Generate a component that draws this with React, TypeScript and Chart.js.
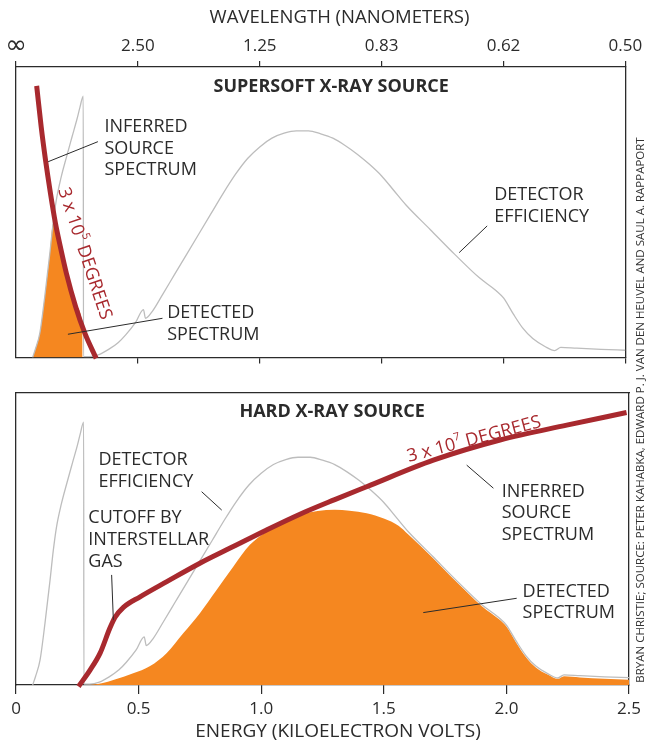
import React, { useEffect, useRef } from 'react';
import { Chart, registerables } from 'chart.js';

Chart.register(...registerables);

type Pt = [number, number];

// ---------- axis ticks ----------
const energyTicks = [0, 0.5, 1.0, 1.5, 2.0, 2.5];
const energyTickLabels = ['0', '0.5', '1.0', '1.5', '2.0', '2.5'];
const wavelengthTickLabels = ['∞', '2.50', '1.25', '0.83', '0.62', '0.50'];
const wavelengthAxisTitle = 'WAVELENGTH (NANOMETERS)';
const energyAxisTitle = 'ENERGY (KILOELECTRON VOLTS)';

// ---------- series: [energy keV, relative level 0..100] ----------
const detectorEfficiency: Pt[] = [
  [0.068, 0], [0.08, 3], [0.098, 8.5], [0.118, 21], [0.139, 36], [0.152, 46], [0.165, 54],
  [0.185, 62], [0.207, 69], [0.23, 76], [0.25, 82], [0.262, 86], [0.276, 90], [0.2768, 0.3],
  [0.3, 0.3], [0.34, 1], [0.38, 2.8], [0.42, 5.2], [0.45, 7.8], [0.49, 12], [0.523, 16.5],
  [0.531, 13.5], [0.56, 16], [0.6, 21.5], [0.65, 28.5], [0.7, 35.5], [0.75, 42.5], [0.8, 49.5],
  [0.85, 56.5], [0.9, 63], [0.95, 68.5], [1.0, 72.5], [1.05, 75.5], [1.1, 77.2], [1.15, 78],
  [1.2, 78], [1.25, 77], [1.3, 75.5], [1.35, 73], [1.4, 70], [1.45, 66.5], [1.5, 62.5],
  [1.55, 57.5], [1.6, 52.5], [1.7, 44], [1.8, 35.5], [1.9, 27.5], [1.97, 23], [2.0, 20.5],
  [2.04, 15], [2.08, 10], [2.12, 6.5], [2.17, 3.8], [2.21, 2.4], [2.235, 3.5], [2.3, 3.2],
  [2.4, 2.8], [2.5, 2.5],
];

const supersoftSource: Pt[] = [
  [0.0848, 93.5], [0.1033, 79.4], [0.121, 68], [0.1414, 56.5], [0.1618, 46.2], [0.182, 38.1],
  [0.2066, 29], [0.2447, 17.5], [0.2828, 8.3], [0.329, -0.3],
];

const supersoftDetected: Pt[] = [
  [0.068, 0], [0.08, 3], [0.098, 8.5], [0.118, 21], [0.139, 36], [0.152, 46], [0.165, 45],
  [0.182, 38.1], [0.2066, 29], [0.2447, 17.5], [0.273, 10.7], [0.2735, 0],
];

const hardSource: Pt[] = [
  [0.255, -0.5], [0.302, 5.1], [0.343, 10.9], [0.383, 19.5], [0.404, 23.2], [0.438, 26.6],
  [0.506, 30.2], [0.615, 35.4], [0.75, 41.7], [0.886, 47.4], [1.022, 53.1], [1.158, 58.5],
  [1.3, 63.5], [1.43, 67.9], [1.702, 77], [1.974, 83.9], [2.246, 89], [2.49, 93.3],
];

const hardDetected: Pt[] = [
  [0.28, 0], [0.35, 0.6], [0.4, 1.8], [0.478, 4], [0.547, 6.5], [0.615, 11], [0.682, 17.7],
  [0.75, 24.6], [0.818, 32.5], [0.886, 40.5], [0.954, 48], [1.022, 52.5], [1.1, 56],
  [1.16, 58.3], [1.23, 59.6], [1.3, 60], [1.36, 59.7], [1.43, 58.8], [1.5, 57], [1.56, 54.5],
  [1.6, 51.5], [1.7, 43.5], [1.8, 35], [1.9, 27], [1.97, 22.5], [2.0, 20], [2.04, 14.5],
  [2.08, 9.5], [2.12, 6], [2.17, 3.5], [2.21, 2.1], [2.235, 3], [2.3, 2.6], [2.4, 2.1], [2.5, 1.8],
];

// ---------- annotations (anchored in data coordinates) ----------
type Note = { lines: string[]; at: Pt; align?: 'left' | 'center'; color?: string; bold?: boolean; angle?: number };
type Leader = [Pt, Pt];

const supersoftNotes: Note[] = [
  { lines: ['SUPERSOFT X-RAY SOURCE'], at: [1.293, 93.1], align: 'center', bold: true },
  { lines: ['INFERRED', 'SOURCE', 'SPECTRUM'], at: [0.363, 79.3] },
  { lines: ['3 x 10^5 DEGREES'], at: [0.281, 35.8], align: 'center', color: 'red', angle: 71.7 },
  { lines: ['DETECTOR', 'EFFICIENCY'], at: [1.962, 55.9] },
  { lines: ['DETECTED', 'SPECTRUM'], at: [0.62, 15.3] },
];
const supersoftLeaders: Leader[] = [
  [[0.336, 74.3], [0.132, 67.4]],
  [[1.818, 36.1], [1.933, 45.3]],
  [[0.213, 8], [0.601, 13.5]],
];

const hardNotes: Note[] = [
  { lines: ['HARD X-RAY SOURCE'], at: [1.289, 93.6], align: 'center', bold: true },
  { lines: ['DETECTOR', 'EFFICIENCY'], at: [0.336, 77.1] },
  { lines: ['CUTOFF BY', 'INTERSTELLAR', 'GAS'], at: [0.295, 57.1] },
  { lines: ['3 x 10^7 DEGREES'], at: [1.868, 84.1], align: 'center', color: 'red', angle: -14.8 },
  { lines: ['INFERRED', 'SOURCE', 'SPECTRUM'], at: [1.981, 66.2] },
  { lines: ['DETECTED', 'SPECTRUM'], at: [2.066, 32] },
];
const hardLeaders: Leader[] = [
  [[0.757, 66.2], [0.839, 59.9]],
  [[0.39, 37.7], [0.397, 22.3]],
  [[1.838, 75.3], [1.947, 67.4]],
  [[1.661, 24.8], [2.042, 29.7]],
];

const creditText = 'BRYAN CHRISTIE; SOURCE: PETER KAHABKA, EDWARD P. J. VAN DEN HEUVEL AND SAUL A. RAPPAPORT';

// ---------- styles ----------
const FONT = '"Open Sans", "Noto Sans", sans-serif';
const INK = '#2b2b2b';
const RED = '#a8292e';
const ORANGE = '#f58720';
const GREY = '#bdbdbd';
const TEXT_SIZE = 18;
const TICK_SIZE = 17;
const LINE_GAP = 21.6;

type AxisTitle = { text: string; x: number; y: number; size: number };
const topAxisTitle: AxisTitle = { text: wavelengthAxisTitle, x: 339.5, y: 18, size: 18.5 };
const bottomAxisTitle: AxisTitle = { text: energyAxisTitle, x: 338, y: 731.5, size: 19 };

function drawRich(ctx: CanvasRenderingContext2D, text: string, x: number, y: number, bold: boolean, align: string) {
  const parts: { t: string; sup?: boolean }[] = [];
  let buf = '';
  for (let i = 0; i < text.length; i++) {
    if (text[i] === '^') {
      if (buf) parts.push({ t: buf });
      buf = '';
      parts.push({ t: text[i + 1], sup: true });
      i++;
    } else buf += text[i];
  }
  if (buf) parts.push({ t: buf });
  const w = bold ? 'bold ' : '';
  const fontOf = (sup?: boolean) => `${w}${sup ? Math.round(TEXT_SIZE * 0.62) : TEXT_SIZE}px ${FONT}`;
  let total = 0;
  const widths = parts.map((p) => {
    ctx.font = fontOf(p.sup);
    const m = ctx.measureText(p.t).width;
    total += m;
    return m;
  });
  let cx = align === 'center' ? x - total / 2 : x;
  parts.forEach((p, i) => {
    ctx.font = fontOf(p.sup);
    ctx.fillText(p.t, cx, p.sup ? y - TEXT_SIZE * 0.36 : y);
    cx += widths[i];
  });
}

function notesPlugin(notes: Note[], leaders: Leader[], axisTitle: AxisTitle, credit: boolean) {
  return {
    id: 'notes',
    afterDraw(chart: any) {
      const { ctx } = chart;
      const xs = chart.scales.x;
      const ys = chart.scales.y;
      ctx.save();
      ctx.strokeStyle = INK;
      ctx.lineWidth = 1;
      leaders.forEach(([a, b]) => {
        ctx.beginPath();
        ctx.moveTo(xs.getPixelForValue(a[0]), ys.getPixelForValue(a[1]));
        ctx.lineTo(xs.getPixelForValue(b[0]), ys.getPixelForValue(b[1]));
        ctx.stroke();
      });
      ctx.textBaseline = 'middle';
      ctx.textAlign = 'left';
      notes.forEach((n) => {
        const px = xs.getPixelForValue(n.at[0]);
        const py = ys.getPixelForValue(n.at[1]);
        ctx.save();
        ctx.translate(px, py);
        if (n.angle) ctx.rotate((n.angle * Math.PI) / 180);
        ctx.fillStyle = n.color === 'red' ? RED : INK;
        n.lines.forEach((line, i) => {
          drawRich(ctx, line, 0, i * LINE_GAP, !!n.bold, n.align || 'left');
        });
        ctx.restore();
      });
      // axis title
      ctx.save();
      ctx.fillStyle = INK;
      ctx.font = `${axisTitle.size}px ${FONT}`;
      ctx.textAlign = 'center';
      ctx.textBaseline = 'middle';
      ctx.fillText(axisTitle.text, axisTitle.x, axisTitle.y);
      ctx.restore();
      if (credit) {
        ctx.save();
        ctx.translate(641, 410);
        ctx.rotate(-Math.PI / 2);
        ctx.fillStyle = '#333';
        ctx.font = `11.5px ${FONT}`;
        ctx.textAlign = 'center';
        ctx.textBaseline = 'middle';
        ctx.fillText(creditText, 0, 0);
        ctx.restore();
      }
      ctx.restore();
    },
  };
}

const toXY = (pts: Pt[]) => pts.map(([x, y]) => ({ x, y }));

function lineDs(label: string, pts: Pt[], color: string, width: number, extra: any = {}) {
  return {
    label,
    data: toXY(pts),
    borderColor: color,
    borderWidth: width,
    pointRadius: 0,
    fill: false,
    cubicInterpolationMode: 'monotone',
    ...extra,
  };
}

const tickFont = { family: FONT, size: TICK_SIZE };
const setTicks = (s: any) => {
  s.ticks = energyTicks.map((v) => ({ value: v }));
};
const idx = (v: number) => Math.round(v * 2);

// scriptable tick font: the infinity sign is set larger so it matches the reference glyph
const wavelengthTickFont = (c: any) =>
  c && c.index === 0 ? { family: '"DejaVu Sans"', size: 26, lineHeight: 0.8 } : tickFont;

const sideAxis = (position: string) => ({
  position,
  min: 0,
  max: 100,
  ticks: { display: false },
  grid: { display: false },
  border: { display: true, color: INK, width: 1.3 },
  afterFit: (s: any) => {
    s.width = 0;
  },
});

function baseOptions(padding: any, xScales: any) {
  return {
    responsive: false,
    devicePixelRatio: 1,
    animation: false,
    events: [],
    layout: { padding },
    plugins: { legend: { display: false }, tooltip: { enabled: false }, title: { display: false } },
    scales: { ...xScales, y: sideAxis('left'), y2: sideAxis('right') },
  };
}

function makeTop(canvas: HTMLCanvasElement) {
  return new Chart(canvas, {
    type: 'line',
    data: {
      datasets: [
        lineDs('Inferred source spectrum', supersoftSource, RED, 5, { clip: false }),
        lineDs('Detector efficiency', detectorEfficiency, GREY, 1.3),
        lineDs('Detected spectrum', supersoftDetected, 'rgba(0,0,0,0)', 0, {
          fill: 'origin',
          backgroundColor: ORANGE,
        }),
      ],
    },
    options: baseOptions(
      { left: 16, right: 18, top: 0, bottom: 372 },
      {
        x: {
          type: 'linear',
          position: 'top',
          min: 0,
          max: 2.5,
          afterBuildTicks: setTicks,
          ticks: {
            autoSkip: false,
            maxRotation: 0,
            padding: 4.8,
            color: INK,
            font: wavelengthTickFont,
            callback: (v: number) => wavelengthTickLabels[idx(v)],
          },
          grid: { drawOnChartArea: false, drawTicks: true, tickLength: 6, color: INK, lineWidth: 1.2 },
          border: { display: true, color: INK, width: 1.3 },
          title: { display: false, text: wavelengthAxisTitle },
          afterFit: (s: any) => {
            s.height = 67;
          },
        },
        x2: {
          type: 'linear',
          position: 'bottom',
          min: 0,
          max: 2.5,
          afterBuildTicks: setTicks,
          ticks: { display: false },
          grid: {
            drawOnChartArea: false,
            drawTicks: true,
            tickLength: 6,
            lineWidth: 1.2,
            color: (c: any) => (c.index === 0 ? 'rgba(0,0,0,0)' : INK),
          },
          border: { display: true, color: INK, width: 1.3 },
          afterFit: (s: any) => {
            s.height = 14.5;
          },
        },
      }
    ) as any,
    plugins: [notesPlugin(supersoftNotes, supersoftLeaders, topAxisTitle, false)],
  } as any);
}

function makeBottom(canvas: HTMLCanvasElement) {
  return new Chart(canvas, {
    type: 'line',
    data: {
      datasets: [
        lineDs('Inferred source spectrum', hardSource, RED, 5, { clip: false }),
        lineDs('Detector efficiency', detectorEfficiency, GREY, 1.3),
        lineDs('Detected spectrum', hardDetected, 'rgba(0,0,0,0)', 0, {
          fill: 'origin',
          backgroundColor: ORANGE,
        }),
      ],
    },
    options: baseOptions(
      { left: 16, right: 18, top: 393, bottom: 0 },
      {
        x: {
          type: 'linear',
          position: 'bottom',
          min: 0,
          max: 2.5,
          afterBuildTicks: setTicks,
          ticks: {
            autoSkip: false,
            maxRotation: 0,
            padding: 4.8,
            color: INK,
            font: tickFont,
            callback: (v: number) => energyTickLabels[idx(v)],
          },
          grid: { drawOnChartArea: false, drawTicks: true, tickLength: 9, color: INK, lineWidth: 1.2 },
          border: { display: true, color: INK, width: 1.3 },
          title: { display: false, text: energyAxisTitle },
          afterFit: (s: any) => {
            s.height = 59;
          },
        },
        xt: {
          type: 'linear',
          position: 'top',
          min: 0,
          max: 2.5,
          ticks: { display: false },
          grid: { display: false },
          border: { display: true, color: INK, width: 1.3 },
          afterFit: (s: any) => {
            s.height = 0;
          },
        },
      }
    ) as any,
    plugins: [notesPlugin(hardNotes, hardLeaders, bottomAxisTitle, true)],
  } as any);
}

export default function App() {
  const topRef = useRef<HTMLCanvasElement>(null);
  const botRef = useRef<HTMLCanvasElement>(null);
  useEffect(() => {
    const c1 = makeTop(topRef.current as HTMLCanvasElement);
    const c2 = makeBottom(botRef.current as HTMLCanvasElement);
    return () => {
      c1.destroy();
      c2.destroy();
    };
  }, []);
  return (
    <div style={{ position: 'absolute', left: 0, top: 0, width: 647, height: 744, background: '#fff' }}>
      <canvas ref={topRef} width={647} height={744} style={{ position: 'absolute', left: 0, top: 0 }} />
      <canvas ref={botRef} width={647} height={744} style={{ position: 'absolute', left: 0, top: 0 }} />
    </div>
  );
}
